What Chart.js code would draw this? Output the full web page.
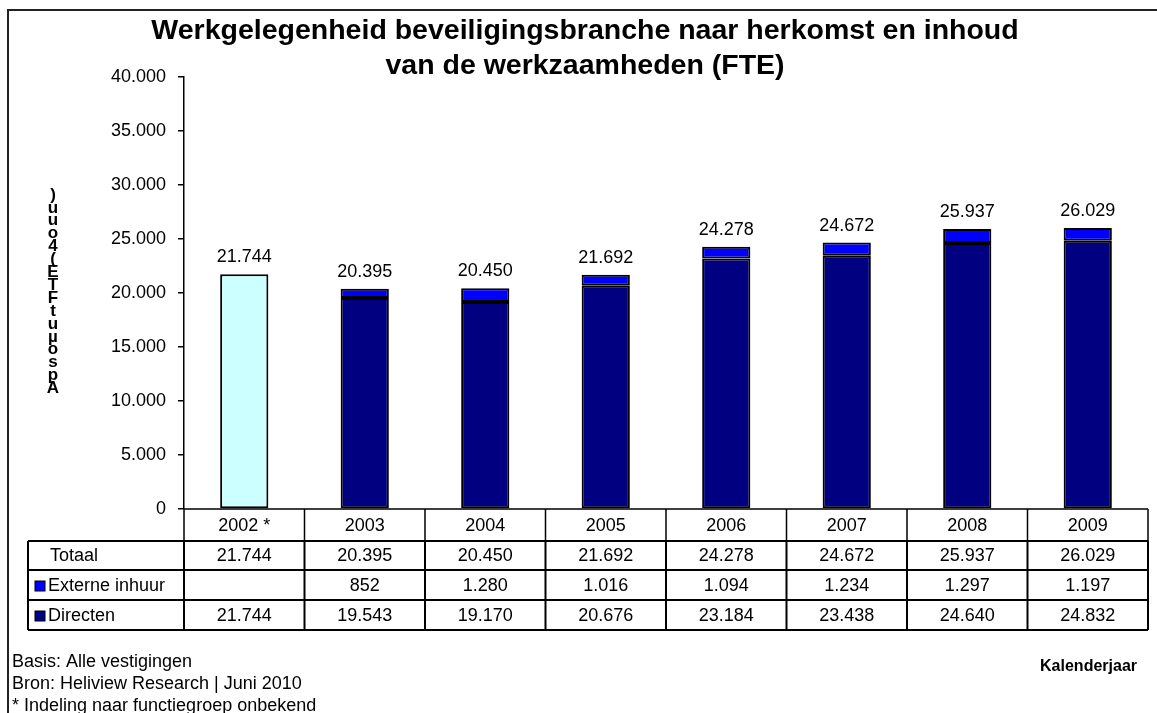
<!DOCTYPE html>
<html>
<head>
<meta charset="utf-8">
<script src="https://cdn.jsdelivr.net/npm/chart.js@4/dist/chart.umd.min.js"></script>
<style>
  body { margin: 0; background: #fff; }
  #wrap { width: 1157px; height: 713px; position: relative; }
</style>
</head>
<body>
<div id="wrap"><canvas id="chart" width="1157" height="713"></canvas></div>
<script>
const years = ["2002 *", "2003", "2004", "2005", "2006", "2007", "2008", "2009"];
const totaal = [21744, 20395, 20450, 21692, 24278, 24672, 25937, 26029];
const externe = [null, 852, 1280, 1016, 1094, 1234, 1297, 1197];
const directen = [21744, 19543, 19170, 20676, 23184, 23438, 24640, 24832];
const yTicks = [0, 5000, 10000, 15000, 20000, 25000, 30000, 35000, 40000];

const FONT = "'Liberation Sans', Arial, sans-serif";
const NAVY = "#000080";
const BLUE = "#0000FF";
const CYAN = "#CCFFFF";

// thousands with a dot, like 21.744
function fmt(v) {
    if (v === null || v === undefined) return "";
    return String(v).replace(/\B(?=(\d{3})+(?!\d))/g, ".");
}

const rows = [
    { label: "Totaal", values: totaal, key: null },
    { label: "Externe inhuur", values: externe, key: BLUE },
    { label: "Directen", values: directen, key: NAVY }
];

const extras = {
    id: "extras",
    afterDraw(chart) {
        const ctx = chart.ctx;
        const area = chart.chartArea;
        const xs = chart.scales.x;
        const ys = chart.scales.y;
        const colW = (area.right - area.left) / years.length;

        ctx.save();

        // outer frame
        ctx.strokeStyle = "#222";
        ctx.lineWidth = 2;
        ctx.beginPath();
        ctx.moveTo(8, 713);
        ctx.lineTo(8, 10);
        ctx.lineTo(1157, 10);
        ctx.stroke();

        // title
        ctx.fillStyle = "#000";
        ctx.textAlign = "center";
        ctx.textBaseline = "middle";
        ctx.font = "bold 28.5px " + FONT;
        ctx.fillText("Werkgelegenheid beveiligingsbranche naar herkomst en inhoud", 585, 31);
        ctx.fillText("van de werkzaamheden (FTE)", 585, 66);

        // totals above the bars
        ctx.font = "18px " + FONT;
        ctx.textBaseline = "alphabetic";
        totaal.forEach((t, i) => {
            ctx.fillText(fmt(t), xs.getPixelForValue(i), ys.getPixelForValue(t) - 12);
        });

        // garbled y axis title, stacked glyphs
        const glyphs = [")", "u", "u", "o", "4", "(", "E", "T", "F", "t", "u", "µ", "o", "s", "p", "A"];
        ctx.font = "bold 17px " + FONT;
        ctx.textBaseline = "middle";
        glyphs.forEach((g, i) => {
            ctx.fillText(g, 53, 195 + i * 12.9);
        });

        // data table
        const tLeft = 28;
        const hTop = area.bottom;
        const rowTops = [541, 570, 600];
        const rowH = 30;
        ctx.strokeStyle = "#000";

        // header row
        ctx.lineWidth = 1.5;
        ctx.beginPath();
        for (let i = 0; i <= years.length; i++) {
            const x = area.left + i * colW;
            ctx.moveTo(x, hTop);
            ctx.lineTo(x, rowTops[0]);
        }
        ctx.moveTo(area.left, hTop);
        ctx.lineTo(area.right, hTop);
        ctx.stroke();

        ctx.font = "18px " + FONT;
        ctx.textAlign = "center";
        ctx.textBaseline = "middle";
        years.forEach((y, i) => {
            ctx.fillText(y, xs.getPixelForValue(i), (hTop + rowTops[0]) / 2 + 1);
        });

        // body rows
        ctx.lineWidth = 2;
        ctx.beginPath();
        rowTops.forEach(top => {
            ctx.moveTo(tLeft, top);
            ctx.lineTo(area.right, top);
        });
        ctx.moveTo(tLeft, rowTops[2] + rowH);
        ctx.lineTo(area.right, rowTops[2] + rowH);
        ctx.moveTo(tLeft, rowTops[0]);
        ctx.lineTo(tLeft, rowTops[2] + rowH);
        for (let i = 0; i <= years.length; i++) {
            const x = area.left + i * colW;
            ctx.moveTo(x, rowTops[0]);
            ctx.lineTo(x, rowTops[2] + rowH);
        }
        ctx.stroke();

        rows.forEach((r, ri) => {
            const cy = (rowTops[ri] + (ri < 2 ? rowTops[ri + 1] : rowTops[2] + rowH)) / 2 + 1;
            ctx.textAlign = "left";
            if (r.key) {
                ctx.fillStyle = r.key;
                ctx.fillRect(35, cy - 5, 10, 10);
                ctx.lineWidth = 1;
                ctx.strokeStyle = "#000";
                ctx.strokeRect(35, cy - 5, 10, 10);
                ctx.fillStyle = "#000";
                ctx.fillText(r.label, 48, cy);
            } else {
                ctx.fillStyle = "#000";
                ctx.fillText(r.label, 50, cy);
            }
            ctx.textAlign = "center";
            r.values.forEach((v, i) => {
                ctx.fillText(fmt(v), xs.getPixelForValue(i), cy);
            });
        });

        // footer
        ctx.textAlign = "left";
        ctx.textBaseline = "middle";
        ctx.font = "18px " + FONT;
        ctx.fillText("Basis: Alle vestigingen", 12, 662);
        ctx.fillText("Bron: Heliview Research | Juni 2010", 12, 684);
        ctx.fillText("* Indeling naar functiegroep onbekend", 12, 706);

        ctx.textAlign = "right";
        ctx.font = "bold 16px " + FONT;
        ctx.fillText("Kalenderjaar", 1137, 667);

        ctx.restore();
    }
};

const ctx = document.getElementById("chart").getContext("2d");
new Chart(ctx, {
    type: "bar",
    data: {
        labels: years,
        datasets: [
            {
                label: "Directen",
                data: directen,
                backgroundColor: directen.map((v, i) => i === 0 ? CYAN : NAVY),
                borderColor: "#000",
                borderWidth: 2,
                borderSkipped: false,
                barPercentage: 0.4,
                categoryPercentage: 1
            },
            {
                label: "Externe inhuur",
                data: externe,
                backgroundColor: BLUE,
                borderColor: "#000",
                borderWidth: 2,
                borderSkipped: false,
                barPercentage: 0.4,
                categoryPercentage: 1
            }
        ]
    },
    options: {
        responsive: false,
        animation: false,
        layout: { padding: { top: 77, right: 9, bottom: 204, left: 0 } },
        plugins: {
            legend: { display: false },
            title: { display: false },
            tooltip: { enabled: false }
        },
        scales: {
            x: {
                stacked: true,
                display: false
            },
            y: {
                stacked: true,
                min: 0,
                max: 40000,
                afterBuildTicks(axis) {
                    axis.ticks = yTicks.map(v => ({ value: v }));
                },
                afterFit(axis) {
                    axis.width = 184;
                },
                border: { display: true, color: "#000", width: 1.5 },
                grid: {
                    drawOnChartArea: false,
                    color: "#000",
                    tickLength: 6,
                    lineWidth: 1.5
                },
                ticks: {
                    color: "#000",
                    font: { family: FONT, size: 18 },
                    padding: 12,
                    callback: v => fmt(v)
                }
            }
        }
    },
    plugins: [extras]
});
</script>
</body>
</html>
